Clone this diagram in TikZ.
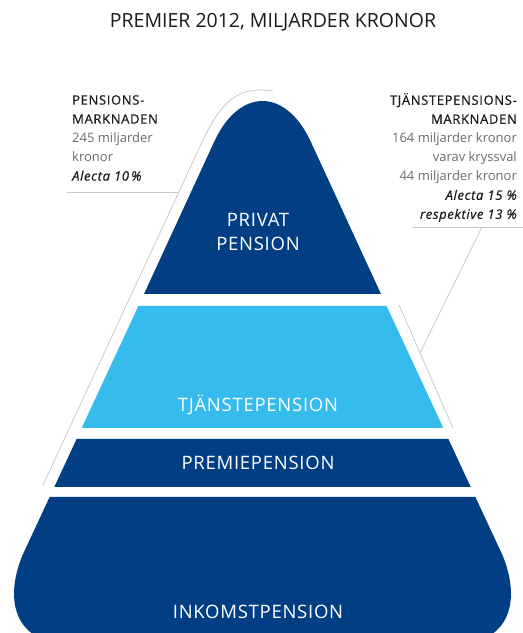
\documentclass[tikz,border=0pt]{standalone}
\usepackage{fontspec}
\setmainfont{Open Sans}
\newfontfamily\strongfont{Open Sans}[FakeBold=0.5, LetterSpace=5]
\newfontfamily\bandfont{Open Sans}[LetterSpace=4]
\definecolor{ink}{HTML}{1A1A1A}
\definecolor{navyP}{HTML}{023E84}
\definecolor{skyP}{HTML}{35BCEC}
\definecolor{greyT}{HTML}{6B6B6B}
\definecolor{greyL}{HTML}{C8C8C8}
\tikzset{
  heading/.style={font=\fontsize{19.5}{22}\selectfont, text=ink},
  band/.style={font=\bandfont\fontsize{18.5}{24}\selectfont, text=white, align=center, inner sep=0pt},
  note/.style={font=\fontsize{13}{19}\selectfont, text=ink, inner sep=0pt},
  guide/.style={draw=greyL, line width=0.8pt}
}
\newcommand{\grey}{\color{greyT}}
\newcommand{\mkt}[1]{{\strongfont #1}}

\begin{document}
\begin{tikzpicture}[x=1pt,y=1pt]
\useasboundingbox (0,0) rectangle (523,633);

\node[heading, anchor=base] (head) at (273,605) {PREMIER 2012, MILJARDER KRONOR};

% market outlines
\draw[guide] (43,148) -- (203,493) .. controls (225,540) and (245,546) .. (273,542);
\draw[guide] (399,328) -- (453,205);

% pyramid bands
\fill[navyP] (144,339) -- (215,493) .. controls (240,545) and (285,545) .. (310,493) -- (381,339) -- cycle;
\fill[skyP] (138.4,327) -- (386.6,327) -- (443.3,205) -- (81.7,205) -- cycle;
\fill[navyP] (76.6,194) -- (448.4,194) -- (470.7,146) -- (54.3,146) -- cycle;
\fill[navyP] (49.6,136) -- (475.4,136) -- (502.4,78)
  .. controls (517,43) and (515,5) .. (480,-7) -- (45,-7)
  .. controls (10,5) and (8,43) .. (22.6,78) -- cycle;

\node[band, anchor=base] (privat) at (258,382) {PRIVAT\\PENSION};
\node[band, anchor=base] (tjanste) at (258,221) {TJÄNSTEPENSION};
\node[band, anchor=base] (premie) at (258,163) {PREMIEPENSION};
\node[band, anchor=base] (inkomst) at (258,15) {INKOMSTPENSION};

% labels
\node[note, align=left, anchor=north west] (pmarket) at (72,538) {
\mkt{PENSIONS-}\\
\mkt{MARKNADEN}\\
{\grey 245 miljarder}\\
{\grey kronor}\\
\mkt{\itshape Alecta 10\,\%}};

\node[note, align=right, anchor=north east] (tmarket) at (517,540) {
\mkt{TJÄNSTEPENSIONS-}\\
\mkt{MARKNADEN}\\
{\grey 164 miljarder kronor}\\
{\grey varav kryssval}\\
{\grey 44 miljarder kronor}\\
\mkt{\itshape Alecta 15 \%}\\
\mkt{\itshape respektive 13 \%}};

\coordinate (pleft) at (67,441);
\coordinate (pedge) at (179,441);
\coordinate (tleft) at (412,406);
\coordinate (tright) at (523,406);
\coordinate (tknee) at (482,406);
\coordinate (tedge) at (420,280);
\draw[guide] (pleft) -- (pedge);
\draw[guide] (tleft) -- (tright);
\draw[guide] (tknee) -- (tedge);

\end{tikzpicture}
\end{document}
